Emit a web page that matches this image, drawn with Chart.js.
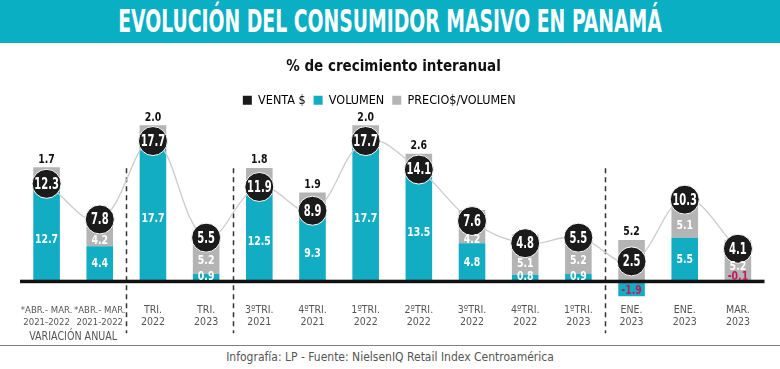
<!DOCTYPE html>
<html lang="es">
<head>
<meta charset="utf-8">
<title>Evolución del consumidor masivo en Panamá</title>
<script src="https://cdn.jsdelivr.net/npm/chart.js@4.4.1/dist/chart.umd.min.js"></script>
<style>
    html, body { margin: 0; padding: 0; background: #fff; }
    body { width: 780px; height: 369px; position: relative; overflow: hidden; font-family: 'DejaVu Sans Condensed', 'DejaVu Sans', sans-serif; }
    .cabecera { position: absolute; left: 0; top: 0; width: 780px; height: 43px; background: #0aafc4; white-space: nowrap; }
    .cabecera span { position: absolute; left: 390px; top: 0; color: #fff; font-weight: bold; font-size: 32px; line-height: 43px; transform: translateX(-50%) scaleX(0.653); }
    .grafico { position: absolute; left: 0; top: 43px; width: 780px; height: 302px; }
    .pie { position: absolute; left: 0; top: 345px; width: 780px; height: 24px; border-top: 1px solid #808080; text-align: center; color: #555; font-size: 12px; line-height: 22px; }
</style>
</head>
<body>
<div class="cabecera"><span>EVOLUCIÓN DEL CONSUMIDOR MASIVO EN PANAMÁ</span></div>
<div class="grafico"><canvas id="consumoChart"></canvas></div>
<div class="pie">Infografía: LP - Fuente: NielsenIQ Retail Index Centroamérica</div>
<script>
// Datos
const categorias = [
    ['*ABR.- MAR.', '2021-2022'], ['*ABR.- MAR.', '2021-2022'],
    ['TRI.', '2022'], ['TRI.', '2023'],
    ['3ºTRI.', '2021'], ['4ºTRI.', '2021'], ['1ºTRI.', '2022'], ['2ºTRI.', '2022'],
    ['3ºTRI.', '2022'], ['4ºTRI.', '2022'], ['1ºTRI.', '2023'],
    ['ENE.', '2023'], ['ENE.', '2023'], ['MAR.', '2023']
];
const ventas = [12.3, 7.8, 17.7, 5.5, 11.9, 8.9, 17.7, 14.1, 7.6, 4.8, 5.5, 2.5, 10.3, 4.1];
const volumen = [12.7, 4.4, 17.7, 0.9, 12.5, 9.3, 17.7, 13.5, 4.8, 0.8, 0.9, -1.9, 5.5, -0.1];
const precios = [1.7, 4.2, 2.0, 5.2, 1.8, 1.9, 2.0, 2.6, 4.2, 5.1, 5.2, 5.2, 5.1, 5.2];
const separadores = [1, 3, 10]; // línea punteada después de estos índices
const notaGrupo = 'VARIACIÓN ANUAL';

const FUENTE = "'DejaVu Sans Condensed', 'DejaVu Sans', sans-serif";
const CIAN = '#12adc3';
const GRIS = '#b4b4b4';
const RADIO = 14.5;

// texto comprimido horizontalmente, como la tipografía condensada del original
function textoEstrecho(ctx, txt, x, y, escala) {
    ctx.save();
    ctx.translate(x, y);
    ctx.scale(escala, 1);
    ctx.fillText(txt, 0, 0);
    ctx.restore();
}

const etiquetasPlugin = {
    id: 'etiquetas',
    beforeDatasetsDraw(chart) {
        const { ctx, scales: { x, y } } = chart;
        const y0 = y.getPixelForValue(0);
        ctx.save();
        ctx.strokeStyle = '#333';
        ctx.lineWidth = 1.5;
        ctx.setLineDash([5, 4]);
        separadores.forEach(i => {
            const sx = Math.round((x.getPixelForValue(i) + x.getPixelForValue(i + 1)) / 2) + 0.5;
            ctx.beginPath();
            ctx.moveTo(sx, y0 - 113);
            ctx.lineTo(sx, y0 + 52);
            ctx.stroke();
        });
        ctx.restore();
    },
    afterDatasetsDraw(chart) {
        const { ctx, chartArea, scales: { x, y } } = chart;
        const y0 = y.getPixelForValue(0);
        ctx.save();

        // línea base
        ctx.fillStyle = '#111';
        ctx.fillRect(chartArea.left, y0 - 1.5, chartArea.right - chartArea.left, 3.5);

        ctx.textAlign = 'center';
        ctx.textBaseline = 'middle';
        ctx.font = 'bold 13px ' + FUENTE;

        categorias.forEach((c, i) => {
            const cx = x.getPixelForValue(i);
            const cBot = y.getPixelForValue(ventas[i]) + RADIO;
            const v = volumen[i];
            const vTop = y.getPixelForValue(v);
            const pequeno = Math.abs(vTop - y0) < 14;

            // etiqueta volumen
            let volY;
            if (v < 0 && !pequeno) volY = (y0 + vTop) / 2 + 2;
            else if (pequeno) volY = y0 - 5;
            else volY = (Math.max(vTop, cBot) + y0) / 2;
            ctx.fillStyle = v < 0 ? '#c2185b' : '#fff';
            textoEstrecho(ctx, v.toFixed(1), cx, volY, 0.8);

            // etiqueta precio
            const pBase = v > 0 ? vTop : y0;
            const pTop = y.getPixelForValue(Math.max(v, 0) + precios[i]);
            const visBot = pequeno ? y0 - 11.5 : pBase;
            const visTop = Math.max(pTop, cBot);
            if (visBot - visTop >= 6) {
                ctx.fillStyle = '#fff';
                textoEstrecho(ctx, precios[i].toFixed(1), cx, (visBot + visTop) / 2, 0.8);
            } else {
                ctx.fillStyle = '#111';
                textoEstrecho(ctx, precios[i].toFixed(1), cx, pTop - 8, 0.8);
            }
        });
        ctx.restore();
    },
    afterDraw(chart) {
        const { ctx, scales: { x, y } } = chart;
        ctx.save();
        // valores de ventas dentro de los círculos
        ctx.textAlign = 'center';
        ctx.textBaseline = 'middle';
        ctx.fillStyle = '#fff';
        ctx.font = 'bold 15px ' + FUENTE;
        ventas.forEach((v, i) => {
            textoEstrecho(ctx, v.toFixed(1), x.getPixelForValue(i), y.getPixelForValue(v) + 1, 0.74);
        });
        // nota bajo las dos primeras categorías
        ctx.fillStyle = '#555';
        ctx.font = '12.5px ' + FUENTE;
        textoEstrecho(ctx, notaGrupo, (x.getPixelForValue(0) + x.getPixelForValue(1)) / 2, y.getPixelForValue(0) + 56, 0.85);
        ctx.restore();
    }
};

new Chart(document.getElementById('consumoChart'), {
    type: 'bar',
    data: {
        labels: categorias,
        datasets: [{
            type: 'line',
            label: 'VENTA $',
            data: ventas,
            legendColor: '#1b1b1b',
            borderColor: '#cccccc',
            borderWidth: 1.3,
            tension: 0.4,
            pointRadius: RADIO,
            pointHoverRadius: RADIO,
            pointBackgroundColor: '#1b1b1b',
            pointBorderColor: '#fff',
            pointBorderWidth: 1,
            clip: false,
            stack: 'ventas',
            order: 0
        }, {
            label: 'VOLUMEN',
            data: volumen,
            legendColor: CIAN,
            backgroundColor: CIAN,
            stack: 'barras',
            order: 1
        }, {
            label: 'PRECIO$/VOLUMEN',
            data: precios,
            legendColor: GRIS,
            backgroundColor: GRIS,
            stack: 'barras',
            order: 1
        }]
    },
    options: {
        responsive: true,
        maintainAspectRatio: false,
        animation: false,
        categoryPercentage: 1,
        barPercentage: 0.5,
        layout: { padding: { left: 20, right: 13, top: 0, bottom: 0 } },
        scales: {
            x: {
                stacked: true,
                grid: { display: false },
                border: { display: false },
                ticks: {
                    color: '#555',
                    autoSkip: false,
                    maxRotation: 0,
                    padding: -5,
                    // las dos primeras etiquetas son más largas
                    font: (c) => ({ family: FUENTE, size: c.index < 2 ? 9.5 : 10.5, lineHeight: c.index < 2 ? 1.27 : 1.15 })
                },
                afterFit: (scale) => { scale.height = 44; }
            },
            y: {
                stacked: true,
                display: false,
                min: -2.5,
                max: 20.8
            }
        },
        plugins: {
            title: {
                display: true,
                text: '% de crecimiento interanual',
                color: '#111',
                font: { family: FUENTE, size: 15, weight: 'bold', lineHeight: 1.4 },
                padding: { top: 14, bottom: 8 }
            },
            legend: {
                position: 'top',
                labels: {
                    boxWidth: 9,
                    boxHeight: 9,
                    padding: 8,
                    color: '#333',
                    font: { family: FUENTE, size: 12.5 },
                    // espacios finales para centrar la leyenda como en el original
                    generateLabels: (chart) => chart.data.datasets.map((ds, i) => ({
                        text: i === chart.data.datasets.length - 1 ? ds.label + '        ' : ds.label,
                        fillStyle: ds.legendColor,
                        strokeStyle: ds.legendColor,
                        lineWidth: 0,
                        hidden: false,
                        datasetIndex: i
                    }))
                }
            },
            tooltip: { enabled: false }
        }
    },
    plugins: [etiquetasPlugin]
});
</script>
</body>
</html>
